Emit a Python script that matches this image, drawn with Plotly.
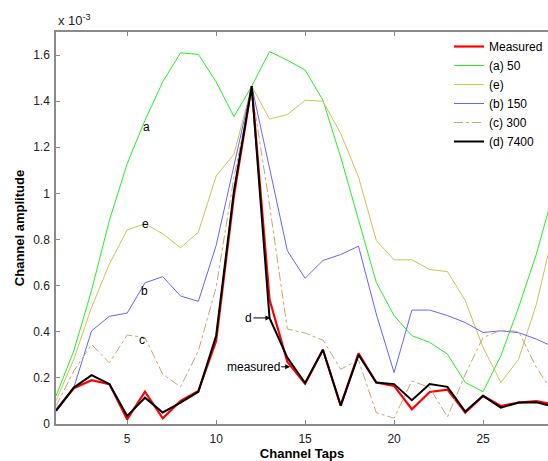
import plotly.graph_objects as go

# Channel taps
taps = list(range(1, 30))

# Amplitudes in units of 1e-3
measured = [0.06, 0.155, 0.19, 0.173, 0.02, 0.14, 0.025, 0.10, 0.143, 0.36, 0.99, 1.465, 0.54, 0.27,
            0.175, 0.322, 0.08, 0.306, 0.18, 0.165, 0.064, 0.139, 0.149, 0.049, 0.122, 0.078, 0.093, 0.099, 0.085]
a_50 = [0.122, 0.317, 0.58, 0.883, 1.129, 1.317, 1.484, 1.61, 1.603, 1.484, 1.333, 1.465, 1.615, 1.578,
        1.535, 1.404, 1.158, 0.883, 0.614, 0.47, 0.383, 0.354, 0.303, 0.18, 0.14, 0.296, 0.506, 0.738, 1.015]
e_ = [0.1, 0.28, 0.506, 0.694, 0.842, 0.868, 0.825, 0.764, 0.832, 1.075, 1.17, 1.465, 1.322, 1.342,
      1.404, 1.4, 1.26, 1.071, 0.796, 0.712, 0.712, 0.67, 0.661, 0.535, 0.332, 0.18, 0.281, 0.52, 0.847]
b_150 = [0.065, 0.158, 0.404, 0.467, 0.481, 0.612, 0.639, 0.555, 0.532, 0.774, 1.12, 1.465, 1.11, 0.752,
         0.632, 0.709, 0.735, 0.771, 0.477, 0.223, 0.494, 0.494, 0.47, 0.44, 0.397, 0.404, 0.396, 0.368, 0.333]
c_300 = [0.078, 0.23, 0.345, 0.265, 0.386, 0.375, 0.216, 0.161, 0.317, 0.593, 1.07, 1.45, 0.95, 0.412,
         0.394, 0.364, 0.238, 0.277, 0.049, 0.025, 0.187, 0.158, 0.03, 0.216, 0.375, 0.407, 0.401, 0.245, 0.127]
d_7400 = [0.057, 0.158, 0.212, 0.173, 0.035, 0.114, 0.05, 0.093, 0.14, 0.383, 1.01, 1.465, 0.46, 0.288,
          0.178, 0.322, 0.08, 0.30, 0.18, 0.173, 0.103, 0.173, 0.161, 0.054, 0.122, 0.071, 0.093, 0.094, 0.075]

y_ticks = [0, 0.2, 0.4, 0.6, 0.8, 1.0, 1.2, 1.4, 1.6]
y_tick_labels = ["0", "0.2", "0.4", "0.6", "0.8", "1", "1.2", "1.4", "1.6"]
x_ticks = [5, 10, 15, 20, 25]

FONT = "Liberation Sans, Arial, sans-serif"

fig = go.Figure()
series = [
    ("Measured", measured, dict(color="#FF0000", width=2.2)),
    ("(a) 50", a_50, dict(color="#22F022", width=1)),
    ("(e)", e_, dict(color="#CCC454", width=1)),
    ("(b) 150", b_150, dict(color="#6464FF", width=1)),
    ("(c) 300", c_300, dict(color="#CDA46E", width=1, dash="dashdot")),
    ("(d) 7400", d_7400, dict(color="#000000", width=2)),
]
for name, vals, line in series:
    fig.add_trace(go.Scatter(x=taps, y=vals, mode="lines", name=name, line=line))

labels = [("a", 6.1, 1.287), ("e", 6.01, 0.869), ("b", 5.97, 0.577), ("c", 5.83, 0.364)]
for txt, xv, yv in labels:
    fig.add_annotation(x=xv, y=yv, text=txt, showarrow=False,
                       font=dict(family=FONT, size=12, color="#000"))

fig.add_annotation(x=13.05, y=0.46, text="d", showarrow=True, ax=-22, ay=0,
                   arrowhead=2, arrowsize=1, arrowwidth=1, arrowcolor="#000",
                   font=dict(family=FONT, size=12, color="#000"))
fig.add_annotation(x=14.16, y=0.248, text="measured", showarrow=True, ax=-37, ay=0,
                   arrowhead=2, arrowsize=1, arrowwidth=1, arrowcolor="#000",
                   font=dict(family=FONT, size=12, color="#000"))

fig.add_annotation(xref="paper", yref="paper", x=0, y=1, xanchor="left", yanchor="bottom",
                   yshift=2, text="x 10<sup>-3</sup>", showarrow=False,
                   font=dict(family=FONT, size=13, color="#222"))

axis_common = dict(showline=True, linecolor="#8a8a8a", linewidth=1.5, ticks="inside",
                   ticklen=4, tickcolor="#8a8a8a", showgrid=False, zeroline=False,
                   automargin=False,
                   tickfont=dict(family=FONT, size=12, color="#222"))

fig.update_layout(
    width=548, height=461,
    margin=dict(l=56, r=0, t=32, b=37),
    paper_bgcolor="white", plot_bgcolor="white",
    font=dict(family=FONT, size=12, color="#000"),
    xaxis=dict(range=[1, 28.65], tickvals=x_ticks, mirror="ticks", ticklabelstandoff=3,
               title=dict(text="<b>Channel Taps</b>", font=dict(size=13), standoff=5),
               **axis_common),
    yaxis=dict(range=[0, 1.7], tickvals=y_ticks, ticktext=y_tick_labels, ticklabelstandoff=2,
               title=dict(text="<b>Channel amplitude</b>", font=dict(size=13), standoff=6),
               **axis_common),
    legend=dict(x=1.0, y=1.0, xanchor="right", yanchor="top", bgcolor="rgba(255,255,255,0.95)",
                borderwidth=0, font=dict(family=FONT, size=12, color="#000"),
                tracegroupgap=0, itemwidth=30),
    showlegend=True,
)

fig.write_html("out.html", config={"displayModeBar": False},
               post_script="document.body.style.margin='0';document.body.style.overflow='hidden';")
